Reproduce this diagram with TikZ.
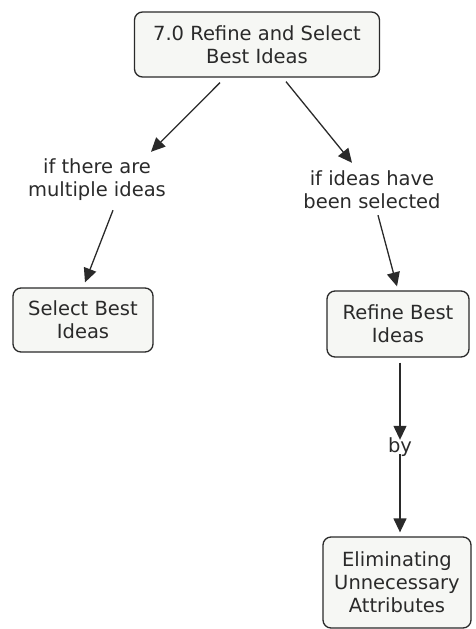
\documentclass[tikz,border=0pt]{standalone}
\usepackage{fontspec}
\setmainfont{DejaVu Sans}
\usetikzlibrary{arrows.meta}
\definecolor{boxfill}{HTML}{F6F7F4}
\definecolor{ink}{HTML}{2A2A2A}
\tikzset{
  concept/.style={draw=ink, line width=1.3pt, rounded corners=8pt, fill=boxfill,
    align=center, inner sep=0pt, text=ink,
    font=\fontsize{19.5}{23}\selectfont},
  linkword/.style={align=center, inner sep=0pt, text=ink,
    font=\fontsize{19.5}{23}\selectfont},
  link/.style={draw=ink, line width=1.3pt,
    -{Triangle[length=14pt,width=13pt]}}
}
\begin{document}
\begin{tikzpicture}[x=1pt,y=-1pt]
\useasboundingbox (0,0) rectangle (475,629);

% concepts
\node[concept, minimum width=245pt, minimum height=65pt] (top) at (257,44.5)
  {7.0 Refine and Select\\Best Ideas};
\node[concept, minimum width=140pt, minimum height=64pt] (select) at (83,320)
  {Select Best\\Ideas};
\node[concept, minimum width=142pt, minimum height=66pt] (refine) at (398,324)
  {Refine Best\\Ideas};
\node[concept, minimum width=148pt, minimum height=91pt] (elim) at (397,582.5)
  {Eliminating\\Unnecessary\\Attributes};

% linking phrases
\node[linkword, minimum height=48pt] (multi) at (97,180) {if there are\\multiple ideas};
\node[linkword, minimum height=48pt] (chosen) at (372,190) {if ideas have\\been selected};
\node[linkword, minimum height=22pt] (by) at (400,447) {by};

% connectors
\draw[link] ([shift={(-37,5)}]top.south) -- ([shift={(54,-4)}]multi.north);
\draw[link] ([shift={(29,4)}]top.south) -- ([shift={(-20,-3)}]chosen.north);
\draw[link] ([shift={(16,6)}]multi.south) -- ([shift={(2,-5)}]select.north);
\draw[link] ([shift={(6,1)}]chosen.south) -- ([shift={(-1,-4)}]refine.north);
\draw[link] ([shift={(2,5)}]refine.south) -- ([yshift=-4]by.north);
\draw[link] ([yshift=4]by.south) -- ([shift={(3,-4)}]elim.north);
\end{tikzpicture}
\end{document}
